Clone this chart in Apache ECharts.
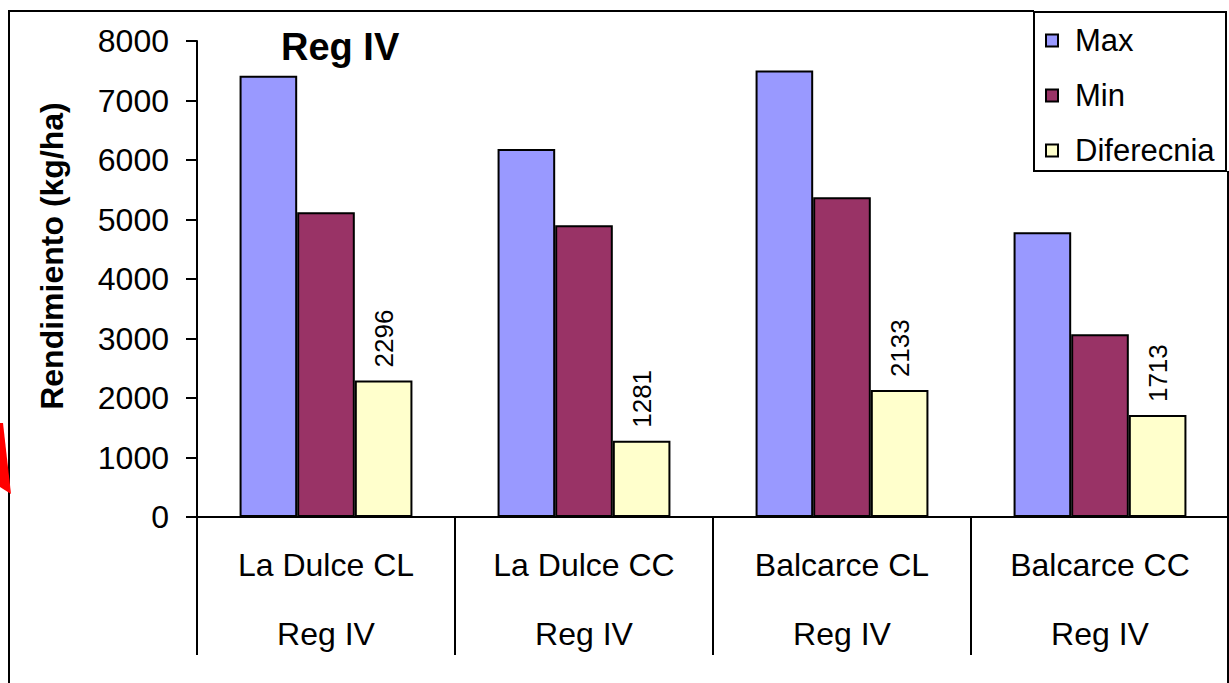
<!DOCTYPE html>
<html>
<head>
<meta charset="utf-8">
<style>
  html, body { margin: 0; padding: 0; background: #ffffff; }
  #chart { width: 1229px; height: 683px; }
</style>
<script src="https://cdn.jsdelivr.net/npm/echarts@6/dist/echarts.min.js"></script>
</head>
<body>
<div id="chart"></div>
<script>
// Yield per site and tillage system (kg/ha)
const sites = ['La Dulce CL', 'La Dulce CC', 'Balcarce CL', 'Balcarce CC'];
const region = 'Reg IV';
const maxValues = [7417, 6185, 7505, 4785];
const minValues = [5121, 4904, 5372, 3072];
const diffValues = [2296, 1281, 2133, 1713];
const yTicks = { min: 0, max: 8000, step: 1000 };
const seriesNames = ['Max', 'Min', 'Diferecnia'];
const seriesColors = ['#9999FF', '#993366', '#FFFFCC'];

const FONT = '"Liberation Sans", Arial, sans-serif';

const chart = echarts.init(document.getElementById('chart'), null, { renderer: 'svg' });

const barStyle = (color) => ({ color: color, borderColor: '#000', borderWidth: 2 });

chart.setOption({
  animation: false,
  backgroundColor: '#ffffff',
  grid: { left: 197, top: 41, width: 1034, height: 476, containLabel: false },
  legend: {
    orient: 'vertical',
    left: 1045,
    top: 25,
    icon: 'rect',
    itemWidth: 12,
    itemHeight: 12,
    itemGap: 24,
    padding: 0,
    textStyle: { fontFamily: FONT, fontSize: 31, color: '#000', lineHeight: 30, padding: [0, 0, 0, 12] },
    data: seriesNames
  },
  xAxis: {
    type: 'category',
    data: sites,
    axisLine: { lineStyle: { color: '#000', width: 2 } },
    axisTick: { show: true, length: 138, interval: 0, lineStyle: { color: '#000', width: 2 } },
    axisLabel: {
      interval: 0,
      margin: 13,
      fontFamily: FONT,
      fontSize: 32,
      lineHeight: 69,
      color: '#000',
      formatter: (v) => v + '\n' + region
    },
    splitLine: { show: false }
  },
  yAxis: {
    type: 'value',
    min: yTicks.min,
    max: yTicks.max,
    interval: yTicks.step,
    axisLine: { show: true, lineStyle: { color: '#000', width: 2 } },
    axisTick: { show: true, length: 11, lineStyle: { color: '#000', width: 2 } },
    axisLabel: { margin: 28, fontFamily: FONT, fontSize: 32, color: '#000', formatter: (v) => String(v) },
    splitLine: { show: false }
  },
  series: [
    {
      name: seriesNames[0], type: 'bar', data: maxValues,
      barGap: '0%', barCategoryGap: '33%',
      itemStyle: barStyle(seriesColors[0])
    },
    {
      name: seriesNames[1], type: 'bar', data: minValues,
      barGap: '0%', barCategoryGap: '33%',
      itemStyle: barStyle(seriesColors[1])
    },
    {
      name: seriesNames[2], type: 'bar', data: diffValues,
      barGap: '0%', barCategoryGap: '33%',
      itemStyle: barStyle(seriesColors[2]),
      label: {
        show: true,
        position: 'top',
        distance: 13,
        rotate: 90,
        align: 'left',
        verticalAlign: 'middle',
        fontFamily: FONT,
        fontSize: 26,
        color: '#000'
      }
    }
  ],
  graphic: [
    // outer frame
    { type: 'line', shape: { x1: 9, y1: 11, x2: 1034, y2: 11 }, style: { stroke: '#000', lineWidth: 2 } },
    { type: 'line', shape: { x1: 9, y1: 10, x2: 9, y2: 683 }, style: { stroke: '#000', lineWidth: 2 } },
    { type: 'line', shape: { x1: 1228, y1: 171, x2: 1228, y2: 683 }, style: { stroke: '#000', lineWidth: 2 } },
    // legend box
    { type: 'rect', shape: { x: 1034, y: 12, width: 192, height: 159 }, style: { fill: 'none', stroke: '#000', lineWidth: 2 } },
    // red pointer tip at the left edge
    { type: 'polygon', shape: { points: [[0, 423], [3, 423], [11, 494], [0, 487]] }, style: { fill: '#ff0000' } },
    // chart title
    {
      type: 'text', x: 281, y: 47,
      style: {
        text: 'Reg IV', fontFamily: FONT, fontWeight: 'bold', fontSize: 38, fill: '#000',
        align: 'left', verticalAlign: 'middle'
      }
    },
    // y axis title
    {
      type: 'text', x: 52, y: 256, rotation: Math.PI / 2,
      style: {
        text: 'Rendimiento (kg/ha)', fontFamily: FONT, fontWeight: 'bold', fontSize: 32,
        fill: '#000', align: 'center', verticalAlign: 'middle'
      }
    }
  ]
});
</script>
</body>
</html>
